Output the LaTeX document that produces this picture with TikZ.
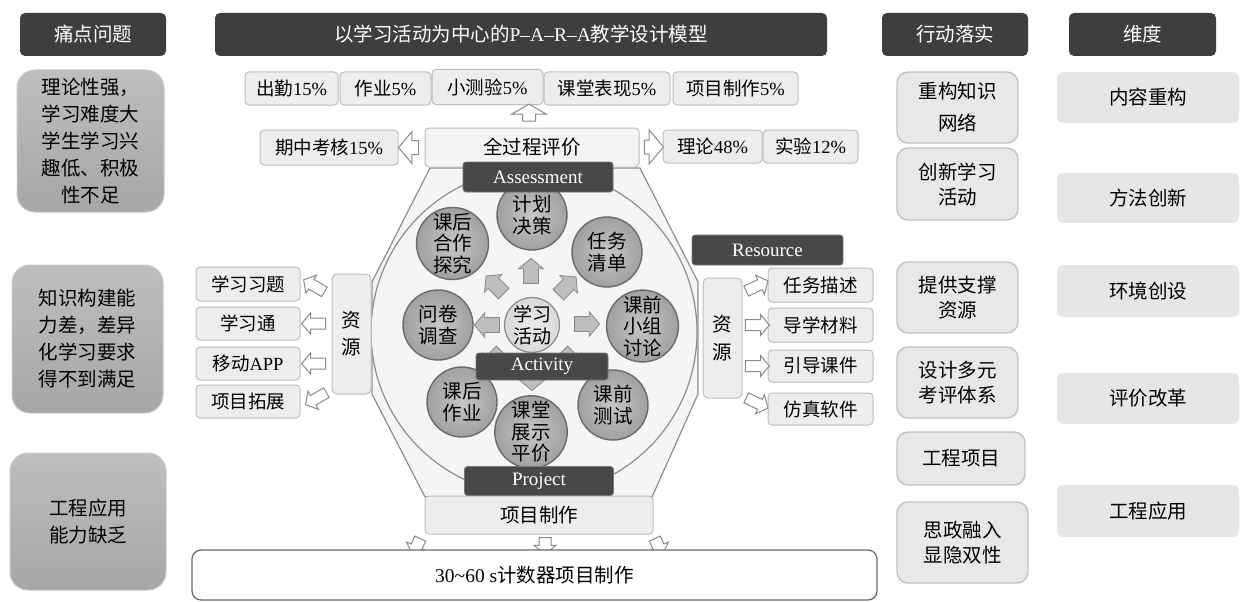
\documentclass[tikz,border=0pt]{standalone}
\usepackage{fontspec}
\setmainfont{Liberation Serif}
\newfontfamily\cjk{Noto Sans CJK SC}
\usetikzlibrary{shapes.arrows,calc}
\definecolor{hdrc}{HTML}{3E3E3E}
\definecolor{labc}{HTML}{484848}
\definecolor{probt}{HTML}{BEBEBE}
\definecolor{probb}{HTML}{A6A6A6}
\definecolor{probd}{HTML}{C8C8C8}
\definecolor{evc}{HTML}{EDEDED}
\definecolor{evd}{HTML}{BDBDBD}
\definecolor{actc}{HTML}{E8E8E8}
\definecolor{actd}{HTML}{C2C2C2}
\definecolor{dimc}{HTML}{E6E6E6}
\definecolor{octd}{HTML}{8E8E8E}
\definecolor{octf}{HTML}{F5F5F5}
\definecolor{arrd}{HTML}{8A8A8A}
\definecolor{balld}{HTML}{6A6A6A}
\definecolor{bhi}{HTML}{C6C6C6}
\definecolor{bmid}{HTML}{A2A2A2}
\definecolor{blo}{HTML}{808080}
\definecolor{hhi}{HTML}{EAEAEA}
\definecolor{hmid}{HTML}{D6D6D6}
\definecolor{hlo}{HTML}{BCBCBC}
\definecolor{sarc}{HTML}{BEBEBE}
\definecolor{bbd}{HTML}{6A6A6A}
\pgfdeclareradialshading{ballsh}{\pgfpoint{0bp}{0bp}}{color(0bp)=(bhi); color(24bp)=(bmid); color(44bp)=(bmid); color(50bp)=(blo)}
\pgfdeclareradialshading{hubsh}{\pgfpoint{0bp}{0bp}}{color(0bp)=(hhi); color(30bp)=(hmid); color(50bp)=(hlo)}
\newcommand\fsz[2]{\fontsize{#1}{#2}\selectfont}
\begin{document}
\begin{tikzpicture}[x=1pt,y=-1pt,
 hdr/.style={fill=hdrc, rounded corners=5pt, text=white, font=\cjk\fsz{19.5}{23}, inner sep=0pt},
 prob/.style={top color=probt, bottom color=probb, draw=probd, line width=1pt, rounded corners=18pt, font=\cjk\fsz{19.5}{27}, align=center, inner sep=0pt},
 ev/.style={fill=evc, draw=evd, line width=1pt, rounded corners=4pt, font=\cjk\fsz{18.5}{22}, inner sep=0pt},
 lab/.style={fill=labc, draw=labc!75!white, line width=0.8pt, rounded corners=3pt, text=white, font=\fsz{19}{21}, inner sep=0pt},
 act/.style={fill=actc, draw=actd, line width=1.4pt, rounded corners=11pt, font=\cjk\fsz{19.5}{25}, align=center, inner sep=0pt, minimum width=121pt},
 dim/.style={fill=dimc, rounded corners=6pt, font=\cjk\fsz{19.5}{24}, inner sep=0pt, minimum width=182pt},
 ball/.style={circle, shading=ballsh, draw=balld, line width=1.4pt, font=\cjk\fsz{19.5}{21.5}, align=center, inner sep=0pt, minimum size=70pt},
 hubball/.style={circle, shading=hubsh, draw=arrd, line width=1.2pt, font=\cjk\fsz{19}{21.5}, align=center, inner sep=0pt, minimum size=55pt},
 harrow/.style={single arrow, draw=arrd, fill=white, line width=1pt, inner xsep=0pt, single arrow tip angle=100},
 larrow/.style={harrow, minimum height=24pt, inner ysep=5pt, single arrow head extend=5pt},
 sarrow/.style={single arrow, fill=sarc, draw=arrd, line width=0.8pt, inner xsep=0pt, inner ysep=7pt, minimum height=25pt, single arrow head extend=5pt, single arrow tip angle=100},
]
\useasboundingbox (0,0) rectangle (1240,602);

% headers
\node[hdr, minimum width=146pt, minimum height=43pt] (h1) at (93,34.5) {痛点问题};
\node[hdr, minimum width=612pt, minimum height=43pt] (h2) at (521,34.5) {以学习活动为中心的\textrm{P--A--R--A}教学设计模型};
\node[hdr, minimum width=146pt, minimum height=43pt] (h3) at (955,34.5) {行动落实};
\node[hdr, minimum width=147pt, minimum height=43pt] (h4) at (1142.5,34.5) {维度};

% problems
\node[prob, minimum width=147pt, minimum height=142pt] (p1) at (90.5,141) {理论性强，\\学习难度大\\学生学习兴\\趣低、积极\\性不足};
\node[prob, minimum width=151pt, minimum height=148pt] (p2) at (87.5,339) {知识构建能\\力差，差异\\化学习要求\\得不到满足};
\node[prob, minimum width=156pt, minimum height=137pt] (p3) at (88,521.5) {工程应用\\能力缺乏};

% model frame
\path[draw=octd, line width=1.2pt, fill=octf] (430,168) -- (640,168) -- (698,282) -- (698,394) -- (652,497) -- (425,497) -- (372,394) -- (372,282) -- cycle;
\draw[octd, line width=1.2pt, fill=octf] (534,332) circle[x radius=163, y radius=163];

% hub and circles
\node[hubball] (hub) at (532,325) {学习\\活动};
\node[sarrow, rotate=90] (s1) at ($(hub)+(-1,-51)$) {};
\node[sarrow, rotate=135] (s2) at ($(hub)+(-35,-38)$) {};
\node[sarrow, rotate=45] (s3) at ($(hub)+(33,-37)$) {};
\node[sarrow, rotate=180] (s4) at ($(hub)+(-42,0)$) {};
\node[sarrow] (s5) at ($(hub)+(52,-1)$) {};
\node[sarrow, rotate=225] (s6) at ($(hub)+(-37,33)$) {};
\node[sarrow, rotate=-45] (s7) at ($(hub)+(37,33)$) {};
\node[sarrow, rotate=-90] (s8) at ($(hub)+(0,50)$) {};
\node[ball] (c1) at (532,215) {计划\\决策};
\node[ball] (c2) at (452.5,243.5) {课后\\合作\\探究};
\node[ball] (c3) at (607,252) {任务\\清单};
\node[ball] (c4) at (438,325) {问卷\\调查};
\node[ball] (c5) at (642.5,326) {课前\\小组\\讨论};
\node[ball] (c6) at (462,402) {课后\\作业};
\node[ball] (c7) at (531,432) {课堂\\展示\\平价};
\node[ball] (c8) at (613,405) {课前\\测试};

% evaluation
\node[ev, minimum width=93pt, minimum height=33pt] (e1) at (291.5,88.5) {出勤\textrm{15\%}};
\node[ev, minimum width=91pt, minimum height=33pt] (e2) at (385.5,88.5) {作业\textrm{5\%}};
\node[ev, minimum width=111pt, minimum height=35pt] (e3) at (487.5,87) {小测验\textrm{5\%}};
\node[ev, minimum width=126pt, minimum height=33pt] (e4) at (607,88.5) {课堂表现\textrm{5\%}};
\node[ev, minimum width=125pt, minimum height=33pt] (e5) at (735.5,88.5) {项目制作\textrm{5\%}};
\node[ev, minimum width=214pt, minimum height=39pt, fill=evc!60!white, font=\cjk\fsz{19.5}{23}] (qg) at (532,147.5) {全过程评价};
\node[ev, minimum width=138pt, minimum height=35pt] (m1) at (329,147.5) {期中考核\textrm{15\%}};
\node[ev, minimum width=99pt, minimum height=33pt] (l1) at (712.5,146.5) {理论\textrm{48\%}};
\node[ev, minimum width=95pt, minimum height=33pt] (l2) at (810.5,146.5) {实验\textrm{12\%}};
\node[harrow, rotate=90, minimum height=17pt, inner ysep=6pt, single arrow head extend=11pt, single arrow tip angle=120] (u1) at ($(qg.north)+(-3,-13)$) {};
\node[harrow, rotate=180, minimum height=20pt, inner ysep=6.5pt, single arrow head extend=9pt] (u2) at ($(m1.east)!0.5!(qg.west)$) {};
\node[harrow, minimum height=19pt, inner ysep=6.5pt, single arrow head extend=10pt] (u3) at ($(qg.east)!0.5!(l1.west)$) {};

% left resources
\node[ev, align=center, font=\cjk\fsz{19.5}{27}, minimum width=39pt, minimum height=120pt, rounded corners=5pt] (ls) at (351.5,334) {资\\源};
\node[ev, minimum width=104pt, minimum height=34pt] (q1) at (248,284) {学习习题};
\node[ev, minimum width=104pt, minimum height=33pt] (q2) at (248,323.5) {学习通};
\node[ev, minimum width=104pt, minimum height=33pt] (q3) at (248,363.5) {移动\textrm{APP}};
\node[ev, minimum width=104pt, minimum height=33pt] (q4) at (248,401.5) {项目拓展};
\node[larrow, rotate=150] at ($(ls.west |- q1)!0.5!(q1.east)+(0,3)$) {};
\node[larrow, rotate=180] at ($(ls.west |- q2)!0.5!(q2.east)$) {};
\node[larrow, rotate=180] at ($(ls.west |- q3)!0.5!(q3.east)$) {};
\node[larrow, rotate=210] at ($(ls.west |- q4)!0.5!(q4.east)+(2,-4)$) {};

% right resources
\node[ev, align=center, font=\cjk\fsz{19.5}{28}, minimum width=39pt, minimum height=120pt, rounded corners=5pt] (rs) at (722.5,338) {资\\源};
\node[ev, minimum width=105pt, minimum height=34pt] (r1) at (820.5,285) {任务描述};
\node[ev, minimum width=105pt, minimum height=34pt] (r2) at (820.5,325) {导学材料};
\node[ev, minimum width=105pt, minimum height=32pt] (r3) at (820.5,366) {引导课件};
\node[ev, minimum width=105pt, minimum height=32pt] (r4) at (820.5,409) {仿真软件};
\node[larrow, rotate=25] at ($(rs.east |- r1)!0.5!(r1.west)+(0,2)$) {};
\node[larrow] at ($(rs.east |- r2)!0.5!(r2.west)$) {};
\node[larrow] at ($(rs.east |- r3)!0.5!(r3.west)$) {};
\node[larrow, rotate=-25] at ($(rs.east |- r4)!0.5!(r4.west)+(0,-7)$) {};

% project
\node[ev, minimum width=228pt, minimum height=38pt, font=\cjk\fsz{19.5}{23}] (pz) at (539,515) {项目制作};
\node[harrow, rotate=-90, minimum height=17pt, inner ysep=5.5pt, single arrow head extend=5pt] at ($(pz.south)+(6,9)$) {};
\node[harrow, rotate=-115, minimum height=18pt, inner ysep=5.5pt, single arrow head extend=5pt] at ($(pz.south west)+(-7,10)$) {};
\node[harrow, rotate=-65, minimum height=18pt, inner ysep=5.5pt, single arrow head extend=5pt] at ($(pz.south east)+(4,10)$) {};
\node[draw=bbd, fill=white, line width=1.3pt, rounded corners=9pt, minimum width=685pt, minimum height=50pt, inner sep=0pt, font=\cjk\fsz{19.5}{24}] (bb) at (534.5,575) {\textrm{30\textasciitilde60 s}计数器项目制作};

% labels
\node[lab, minimum width=150pt, minimum height=30pt] (la) at (538,177) {Assessment};
\node[lab, minimum width=132pt, minimum height=27pt] (lb) at (542,366.5) {Activity};
\node[lab, minimum width=149pt, minimum height=29pt] (lc) at (539,481) {Project};
\node[lab, minimum width=151pt, minimum height=30pt] (ld) at (767.5,250) {Resource};

% actions
\node[act, minimum height=71pt, font=\cjk\fsz{19.5}{32}] (k1) at (957.5,107.5) {重构知识\\网络};
\node[act, minimum height=72pt] (k2) at (957.5,184) {创新学习\\活动};
\node[act, minimum height=71pt] (k3) at (957.5,297.5) {提供支撑\\资源};
\node[act, minimum height=71pt] (k4) at (957.5,382.5) {设计多元\\考评体系};
\node[act, minimum width=128pt, minimum height=53pt] (k5) at (961,458.5) {工程项目};
\node[act, minimum width=131pt, minimum height=81pt] (k6) at (962.5,542.5) {思政融入\\显隐双性};

% dimensions
\node[dim, minimum height=51pt] (d1) at (1148,97.5) {内容重构};
\node[dim, minimum height=50pt] (d2) at (1148,198) {方法创新};
\node[dim, minimum height=52pt] (d3) at (1148,291) {环境创设};
\node[dim, minimum height=51pt] (d4) at (1148,398.5) {评价改革};
\node[dim, minimum height=52pt] (d5) at (1148,511) {工程应用};
\end{tikzpicture}
\end{document}
